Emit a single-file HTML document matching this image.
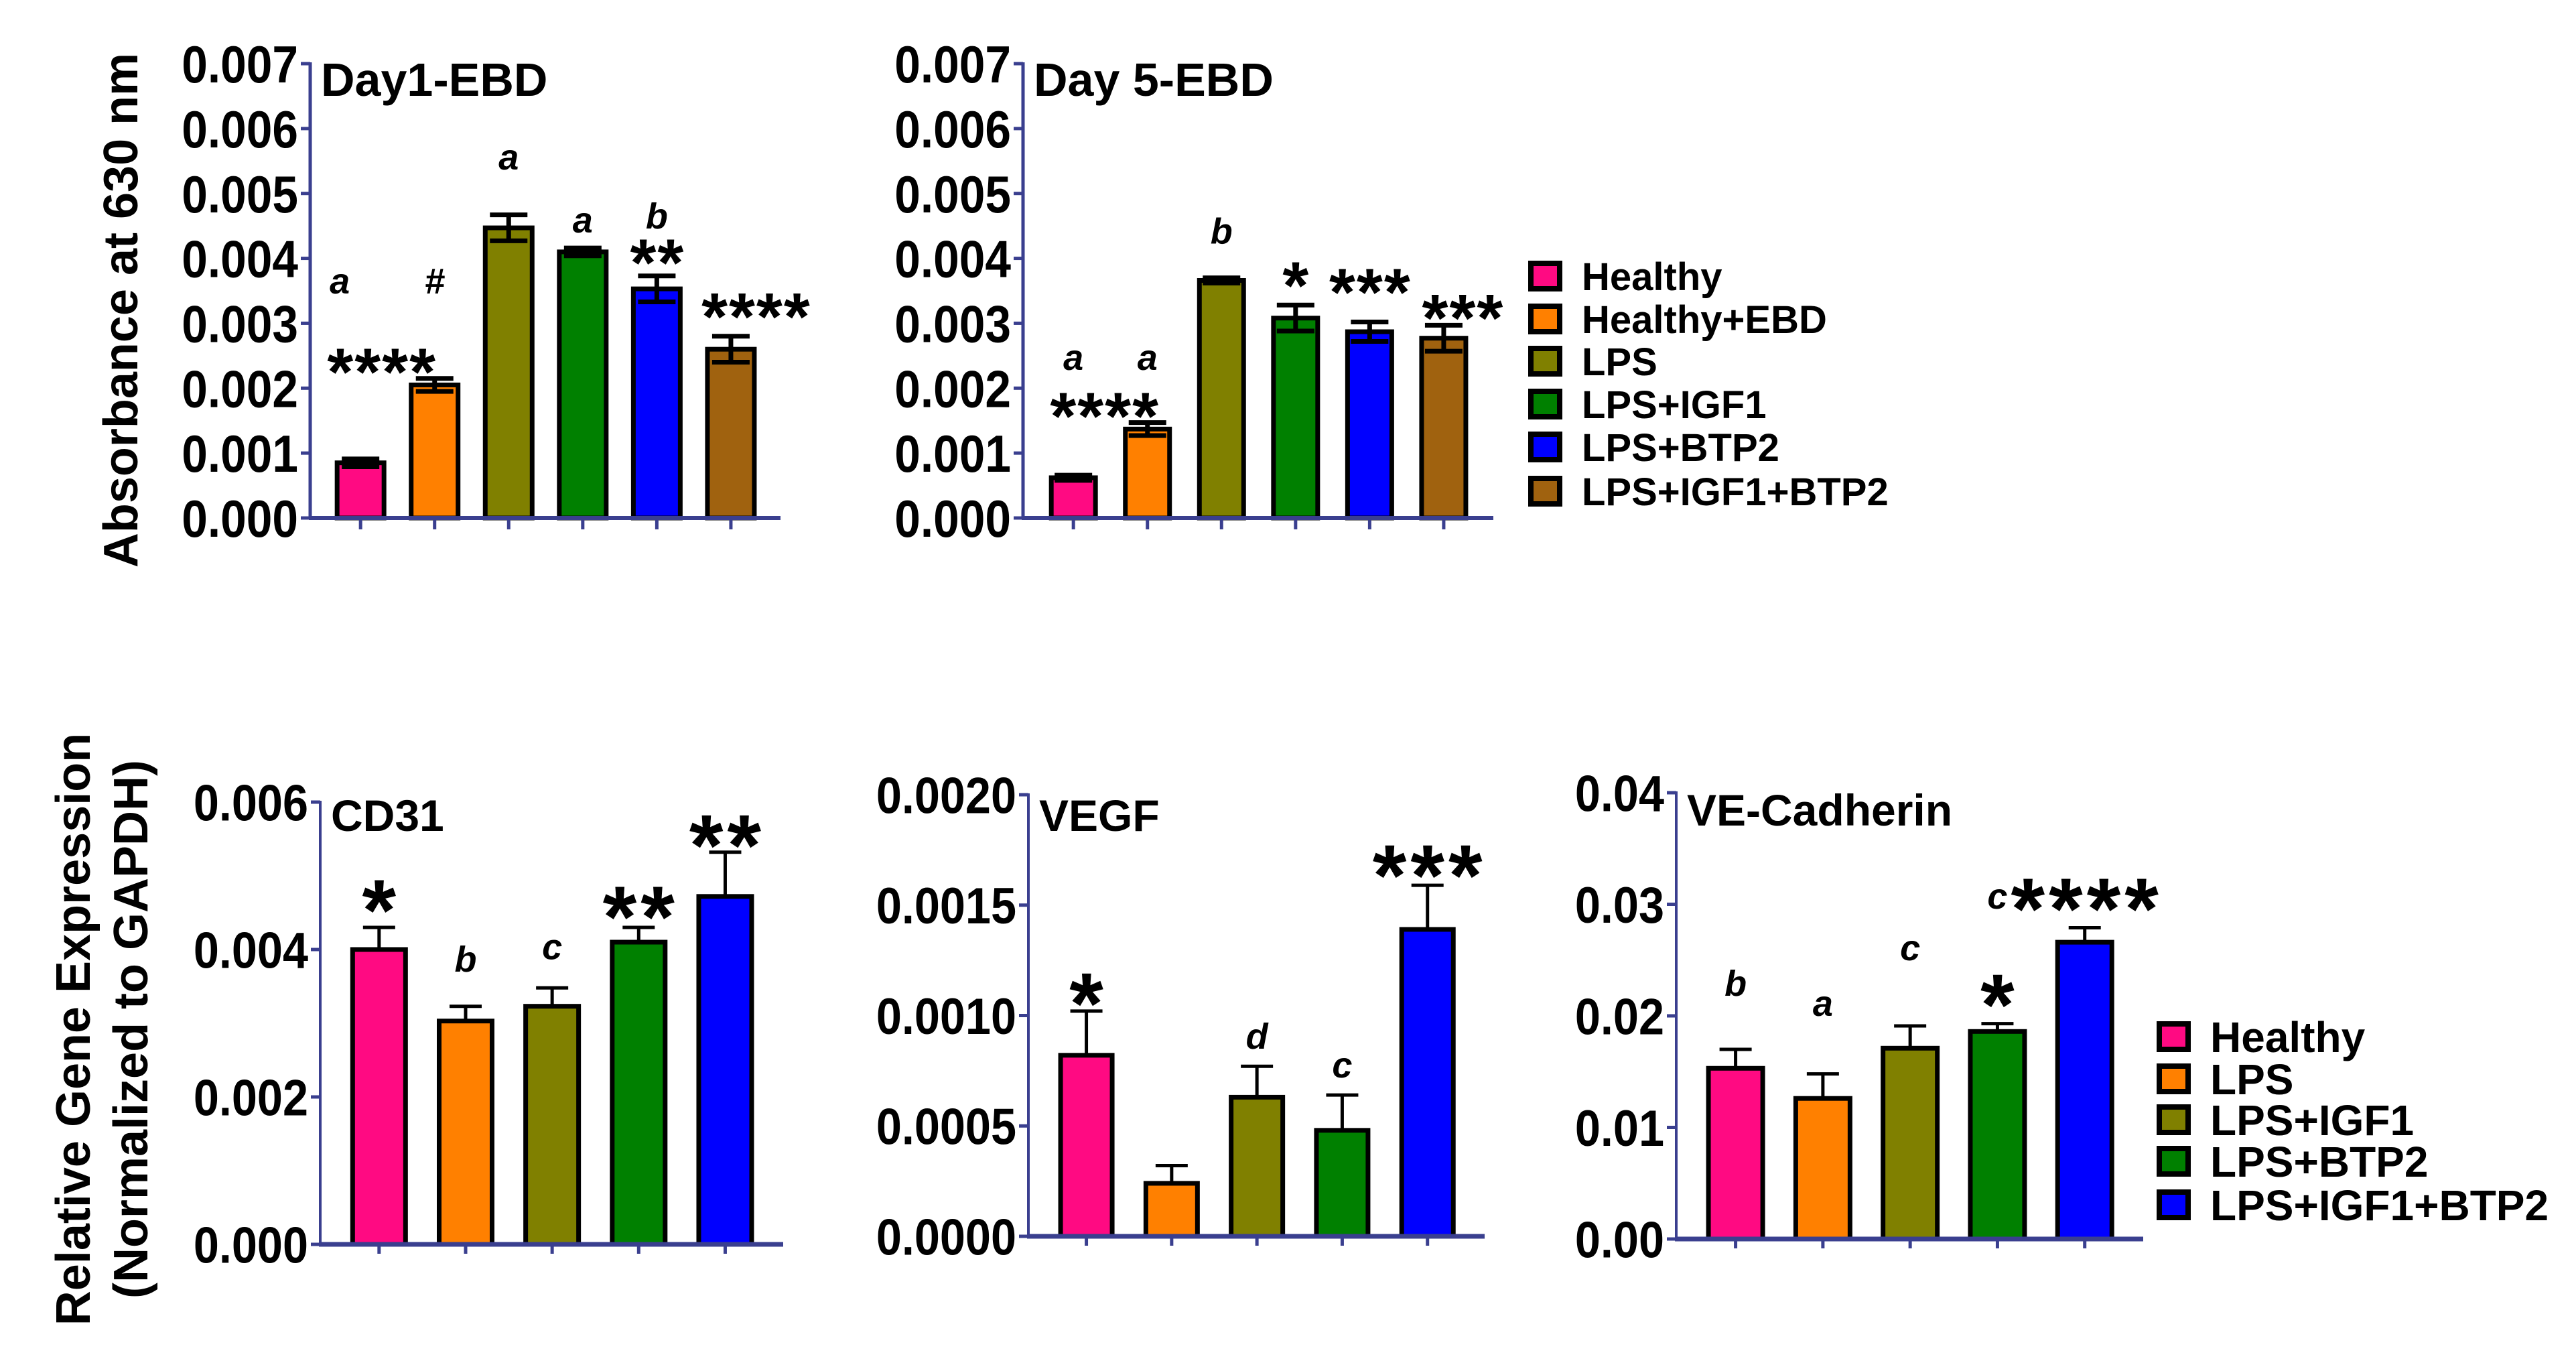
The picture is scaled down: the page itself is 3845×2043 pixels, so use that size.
<!DOCTYPE html>
<html><head><meta charset="utf-8"><style>
html,body{margin:0;padding:0;background:#fff;}
svg{display:block;font-family:"Liberation Sans",Arial,sans-serif;font-weight:bold;}
</style></head><body>
<svg id="fig" width="3845" height="2043" viewBox="0 0 3845 2043" xmlns="http://www.w3.org/2000/svg">
<rect width="3845" height="2043" fill="#fff"/>
<text transform="translate(205,463) rotate(-90)" text-anchor="middle" font-size="72">Absorbance at 630 nm</text>
<text transform="translate(134,1536) rotate(-90)" text-anchor="middle" font-size="72">Relative Gene Expression</text>
<text transform="translate(220,1536) rotate(-90)" text-anchor="middle" font-size="72">(Normalized to GAPDH)</text>
</svg>
<script>
// ---- data ----
const colors6 = ["#FF0A82","#FF8000","#808000","#008000","#0000FF","#A0620F"];
const colors5 = ["#FF0A82","#FF8000","#808000","#008000","#0000FF"];
const legendTop = ["Healthy","Healthy+EBD","LPS","LPS+IGF1","LPS+BTP2","LPS+IGF1+BTP2"];
const legendBottom = ["Healthy","LPS","LPS+IGF1","LPS+BTP2","LPS+IGF1+BTP2"];

const day1Values = [0.00085,0.00205,0.00447,0.0041,0.00353,0.0026];
const day1Errors = [0.00006,0.0001,0.0002,0.00006,0.0002,0.0002];
const day1Stars = ["****","","","","**","****"];
const day1StarLevel = [0.00237,0,0,0,0.00405,0.00322];
const day1Letters = ["a","#","a","a","b",""];
const day1LetterLevel = [0.00346,0.00346,0.00537,0.0044,0.00446,0];
const day1Ticks = ["0.000","0.001","0.002","0.003","0.004","0.005","0.006","0.007"];

const day5Values = [0.00062,0.00137,0.00366,0.00308,0.00287,0.00277];
const day5Errors = [0.00004,0.0001,0.00004,0.0002,0.00015,0.0002];
const day5Stars = ["****","","","*","***","***"];
const day5StarLevel = [0.00169,0,0,0.0037,0.0036,0.0032];
const day5Letters = ["a","a","b","","",""];
const day5LetterLevel = [0.00228,0.00228,0.00423,0,0,0];
const day5Ticks = ["0.000","0.001","0.002","0.003","0.004","0.005","0.006","0.007"];

const cd31Values = [0.0040,0.00303,0.00323,0.0041,0.00472];
const cd31Errors = [0.0003,0.0002,0.00025,0.0002,0.0006];
const cd31Stars = ["*","","","**","**"];
const cd31StarLevel = [0.00467,0,0,0.00458,0.00555];
const cd31Letters = ["","b","c","",""];
const cd31LetterLevel = [0,0.0037,0.00387,0,0];
const cd31Ticks = ["0.000","0.002","0.004","0.006"];

const vegfValues = [0.00082,0.00024,0.00063,0.00048,0.00139];
const vegfErrors = [0.0002,0.00008,0.00014,0.00016,0.0002];
const vegfStars = ["*","","","","***"];
const vegfStarLevel = [0.0011,0,0,0,0.00168];
const vegfLetters = ["","","d","c",""];
const vegfLetterLevel = [0,0,0.00085,0.00072,0];
const vegfTicks = ["0.0000","0.0005","0.0010","0.0015","0.0020"];

const vecadValues = [0.0153,0.0126,0.0171,0.0186,0.0266];
const vecadErrors = [0.0017,0.0022,0.002,0.0007,0.0013];
const vecadStars = ["","","","*","****"];
const vecadStarLevel = [0,0,0,0.0219,0.0305];
const vecadLetters = ["b","a","c","c",""];
const vecadLetterLevel = [0.0218,0.020,0.025,0.0296,0];
const vecadTicks = ["0.00","0.01","0.02","0.03","0.04"];

// ---- drawing ----
const NS="http://www.w3.org/2000/svg";
const svg=document.getElementById('fig');
function mk(tag,attrs,parent){const e=document.createElementNS(NS,tag);for(const k in attrs)e.setAttribute(k,attrs[k]);(parent||svg).appendChild(e);return e;}

function panel(p){
  const g=mk('g',{});
  
  
  const yScale=v=>p.y0-(v/p.max)*(p.y0-p.yTop);
  const n=p.values.length;
  const step=(p.xEnd-p.axisX)/ (n+0.35);
  const xScale=i=>p.axisX+step*(i+0.68);
  p.values.forEach((v,i)=>{
    const cx=xScale(i), w=p.barW;
    const e=p.errors[i];
    const top=yScale(v), et=yScale(v+e);
    const bar=mk('rect',{x:cx-w/2,y:top,width:w,height:p.y0-top,fill:p.colors[i],stroke:'#000','stroke-width':p.bw},g);
    
    
    const eb=mk('g',{stroke:'#000','stroke-width':p.ew},g);
    
    
    const lowY=p.both?yScale(Math.max(0,v-e)):top;
    mk('line',{x1:cx,x2:cx,y1:et,y2:lowY},eb);
    mk('line',{x1:cx-p.cap,x2:cx+p.cap,y1:et,y2:et},eb);
    if(p.both) mk('line',{x1:cx-p.cap,x2:cx+p.cap,y1:lowY,y2:lowY},eb);
    if(p.stars[i]){
      const t=mk('text',{x:cx+(p.starDx?p.starDx[i]:0)+p.starLs/2,y:yScale(p.starLevel[i])+0.46*p.starFs,'text-anchor':'middle','font-size':p.starFs,'letter-spacing':p.starLs},g);
      
      
      t.textContent=p.stars[i];
    }
    if(p.letters[i]){
      const t=mk('text',{x:cx+(p.letterDx?p.letterDx[i]:0),y:yScale(p.letterLevel[i]),'text-anchor':'middle','font-size':p.letterFs,'font-style':'italic'},g);
      
      
      t.textContent=p.letters[i];
    }
    const tk=mk('line',{x1:cx,x2:cx,y1:p.y0,y2:p.y0+p.xtick,stroke:'#3A3F8F','stroke-width':5},g);
    
    
  });
  const ya=mk('line',{x1:p.axisX,x2:p.axisX,y1:p.yTop-2,y2:p.y0,stroke:'#3A3F8F','stroke-width':p.yw},g);
  
  
  const xa=mk('line',{x1:p.axisX-2,x2:p.xEnd,y1:p.y0,y2:p.y0,stroke:'#3A3F8F','stroke-width':p.xw},g);
  
  
  const nt=p.ticks.length;
  p.ticks.forEach((lab,k)=>{
    const v=p.max*k/(nt-1), y=yScale(v);
    mk('line',{x1:p.axisX-14,x2:p.axisX,y1:y,y2:y,stroke:'#3A3F8F','stroke-width':5},g);
    const t=mk('text',{transform:`translate(${p.axisX-18},${y+p.tickFs*0.36}) scale(${p.tickSx},1)`,'text-anchor':'end','font-size':p.tickFs},g);
    
    
    t.textContent=lab;
  });
  const tt=mk('text',{x:p.axisX+16,y:p.titleY,'font-size':p.titleFs},g);
  
  
  tt.textContent=p.title;
}

function legend(name,labels,cols,x,ys,fs){
  const g=mk('g',{});
  
  
  labels.forEach((l,i)=>{
    const e=mk('g',{},g);
    
    
    mk('rect',{x:x+4,y:ys[i]-19,width:43,height:38,fill:cols[i],stroke:'#000','stroke-width':8},e);
    const t=mk('text',{x:x+80,y:ys[i]+fs*0.36,'font-size':fs},e);
    t.textContent=l;
  });
}

const topCommon={max:0.007,yTop:95,y0:773,barW:66,bw:7,ew:7,cap:28,both:true,xtick:17,yw:5,xw:6,tickFs:78,tickSx:0.89,titleFs:70,titleY:143,starFs:100,starLs:2,letterFs:54};
panel(Object.assign({},topCommon,{name:'day1',title:'Day1-EBD',axisX:463,xEnd:1165,colors:colors6,values:day1Values,errors:day1Errors,stars:day1Stars,starLevel:day1StarLevel,starDx:[31,0,0,0,0,37],letters:day1Letters,letterLevel:day1LetterLevel,letterDx:[-31,0,0,0,0,0],ticks:day1Ticks,barW:70}));
panel(Object.assign({},topCommon,{name:'day5',title:'Day 5-EBD',axisX:1527,xEnd:2229,colors:colors6,values:day5Values,errors:day5Errors,stars:day5Stars,starLevel:day5StarLevel,starDx:[46,0,0,0,0,28],letters:day5Letters,letterLevel:day5LetterLevel,ticks:day5Ticks}));
legend('top-legend',legendTop,colors6,2281,[412,476,539,603,667,733],58);

const botCommon={bw:7,ew:5,cap:24,both:false,xtick:14,yw:4,xw:7,tickFs:76,tickSx:0.9,titleFs:66,starFs:130,starLs:6,letterFs:54};
panel(Object.assign({},botCommon,{name:'cd31',title:'CD31',max:0.006,yTop:1197,y0:1857,axisX:478,xEnd:1169,barW:79,colors:colors5,values:cd31Values,errors:cd31Errors,stars:cd31Stars,starLevel:cd31StarLevel,letters:cd31Letters,letterLevel:cd31LetterLevel,ticks:cd31Ticks,titleY:1240}));
panel(Object.assign({},botCommon,{name:'vegf',title:'VEGF',max:0.002,yTop:1186,y0:1845,axisX:1535,xEnd:2216,barW:77,colors:colors5,values:vegfValues,errors:vegfErrors,stars:vegfStars,starLevel:vegfStarLevel,letters:vegfLetters,letterLevel:vegfLetterLevel,ticks:vegfTicks,titleY:1240}));
panel(Object.assign({},botCommon,{name:'vecad',title:'VE-Cadherin',max:0.04,yTop:1183,y0:1849,axisX:2502,xEnd:3199,barW:81,colors:colors5,values:vecadValues,errors:vecadErrors,stars:vecadStars,starLevel:vecadStarLevel,letters:vecadLetters,letterLevel:vecadLetterLevel,ticks:vecadTicks,titleY:1232}));
legend('bottom-legend',legendBottom,colors5,3219,[1547,1610,1671,1733,1798],64);
</script>
</body></html>
